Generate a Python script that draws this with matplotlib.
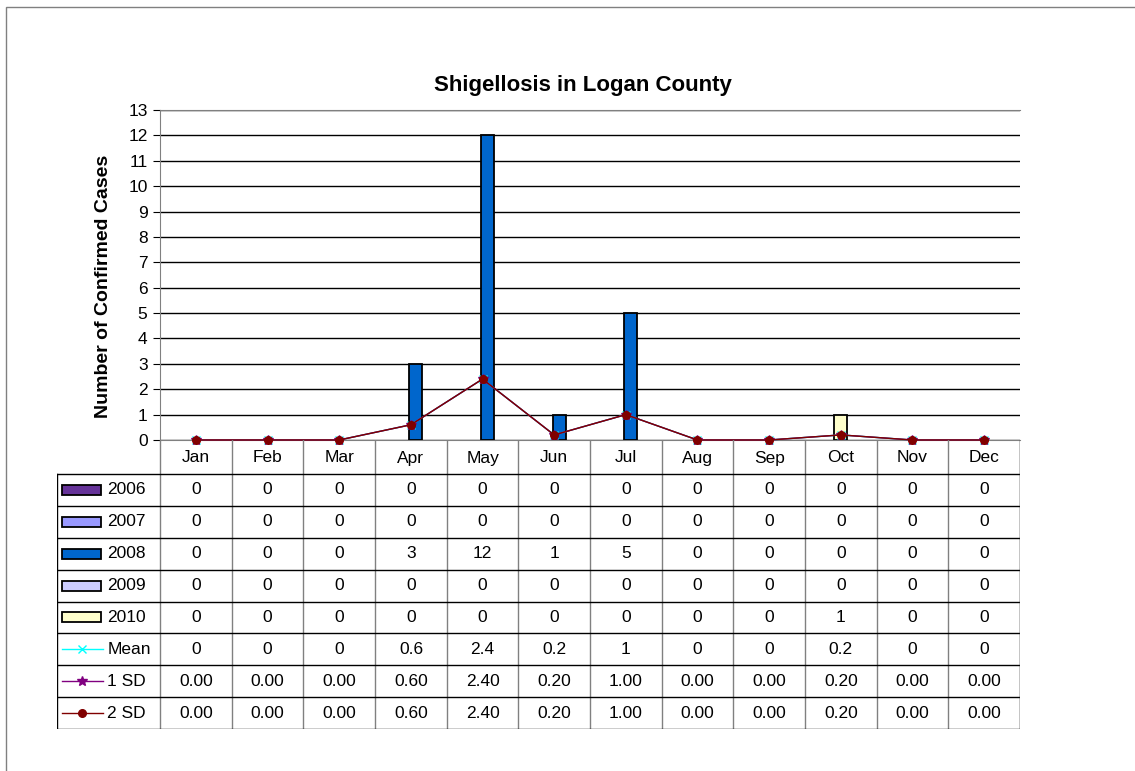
import numpy as np
import matplotlib.pyplot as plt
from matplotlib.patches import Rectangle
from matplotlib.lines import Line2D

plt.rcParams['font.family'] = ['Liberation Sans', 'DejaVu Sans']

months = ["Jan", "Feb", "Mar", "Apr", "May", "Jun", "Jul", "Aug", "Sep", "Oct", "Nov", "Dec"]
cases_2006 = [0, 0, 0, 0, 0, 0, 0, 0, 0, 0, 0, 0]
cases_2007 = [0, 0, 0, 0, 0, 0, 0, 0, 0, 0, 0, 0]
cases_2008 = [0, 0, 0, 3, 12, 1, 5, 0, 0, 0, 0, 0]
cases_2009 = [0, 0, 0, 0, 0, 0, 0, 0, 0, 0, 0, 0]
cases_2010 = [0, 0, 0, 0, 0, 0, 0, 0, 0, 1, 0, 0]
mean_vals = [0, 0, 0, 0.6, 2.4, 0.2, 1, 0, 0, 0.2, 0, 0]
sd1_vals = [0, 0, 0, 0.6, 2.4, 0.2, 1, 0, 0, 0.2, 0, 0]
sd2_vals = [0, 0, 0, 0.6, 2.4, 0.2, 1, 0, 0, 0.2, 0, 0]

W, H = 1135, 771
fs = 12.5
fig = plt.figure(figsize=(W / 100, H / 100), dpi=100)

# outer chart border (only left and top visible)
fig.add_artist(Rectangle((6 / W, -0.5), 2, 1.5 - 7 / H, transform=fig.transFigure,
                         fill=False, edgecolor='#808080', lw=1))

# ---- main plot ----
ax = fig.add_axes([160 / W, 1 - 440 / H, 860 / W, 330 / H])
x = np.arange(12) + 0.5

bar_series = [("2006", cases_2006, '#663399', -0.14),
              ("2007", cases_2007, '#9999FF', -0.07),
              ("2008", cases_2008, '#0066CC', 0.07),
              ("2009", cases_2009, '#CCCCFF', 0.0),
              ("2010", cases_2010, '#FFFFCC', 0.0)]
for name, vals, col, off in bar_series:
    v = np.array(vals, dtype=float)
    m = v > 0
    ax.bar(x[m] + off, v[m], width=0.18, color=col, edgecolor='black', lw=1.3, zorder=3)

line_series = [("Mean", mean_vals, '#00FFFF', 'x', 6),
               ("1 SD", sd1_vals, '#800080', '*', 7),
               ("2 SD", sd2_vals, '#800000', 'o', 5.5)]
for name, vals, col, mk, ms in line_series:
    ax.plot(x, vals, color=col, marker=mk, ms=ms, lw=1, zorder=4, clip_on=False)

ax.set_xlim(0, 12)
ax.set_ylim(0, 13)
ax.set_yticks(range(14))
ax.set_xticks([])
ax.tick_params(axis='y', direction='out', length=5, labelsize=fs, pad=4)
ax.yaxis.grid(True, color='black', lw=1)
ax.set_axisbelow(True)
for s in ['left', 'bottom', 'top']:
    ax.spines[s].set_color('#808080')
ax.spines['right'].set_visible(False)
ax.set_ylabel("Number of Confirmed Cases", fontsize=14, fontweight='bold')
ax.yaxis.set_label_coords(-0.056, 0.465)
fig.text(583 / W, 1 - 86 / H, "Shigellosis in Logan County", ha='center', va='center',
         fontsize=16, fontweight='bold')

# ---- data table underneath ----
leg_x0 = -1.44
head_h = 34
n_rows = 8
tab_h = 289
row_h = (tab_h - head_h) / n_rows
axt = fig.add_axes([57 / W, 1 - 729 / H, 963 / W, tab_h / H])
axt.set_xlim(leg_x0, 12)
axt.set_ylim(tab_h, 0)
axt.axis('off')

for i in range(13):
    axt.plot([i, i], [0, tab_h], color='#808080', lw=1)
for r in range(n_rows + 1):
    y = head_h + r * row_h
    axt.plot([leg_x0, 12], [y, y], color='black', lw=1)
axt.plot([leg_x0, leg_x0], [head_h, tab_h], color='black', lw=1)
axt.plot([12, 12], [0, tab_h], color='#404040', lw=1)

for i, m in enumerate(months):
    axt.text(i + 0.5, head_h / 2 + 1, m, ha='center', va='center', fontsize=fs)

rows = [(name, vals, [f"{v:g}" for v in vals]) for name, vals, _, _ in bar_series]
rows += [("Mean", mean_vals, [f"{v:g}" for v in mean_vals]),
         ("1 SD", sd1_vals, [f"{v:.2f}" for v in sd1_vals]),
         ("2 SD", sd2_vals, [f"{v:.2f}" for v in sd2_vals])]

for r, (name, vals, labels) in enumerate(rows):
    yc = head_h + (r + 0.5) * row_h
    for i, lab in enumerate(labels):
        axt.text(i + 0.5, yc, lab, ha='center', va='center', fontsize=fs)
    if r < len(bar_series):
        col = bar_series[r][2]
        axt.add_patch(Rectangle((leg_x0 + 0.07, yc - 5), 0.54, 10, facecolor=col,
                                edgecolor='black', lw=1.3))
    else:
        _, _, col, mk, ms = line_series[r - len(bar_series)]
        axt.add_line(Line2D([leg_x0 + 0.07, leg_x0 + 0.64], [yc, yc], color=col, lw=1))
        axt.add_line(Line2D([leg_x0 + 0.355], [yc], color=col, marker=mk, ms=ms, lw=0))
    axt.text(leg_x0 + 0.70, yc, name, ha='left', va='center', fontsize=fs)

fig.savefig("out.png", dpi=100)
